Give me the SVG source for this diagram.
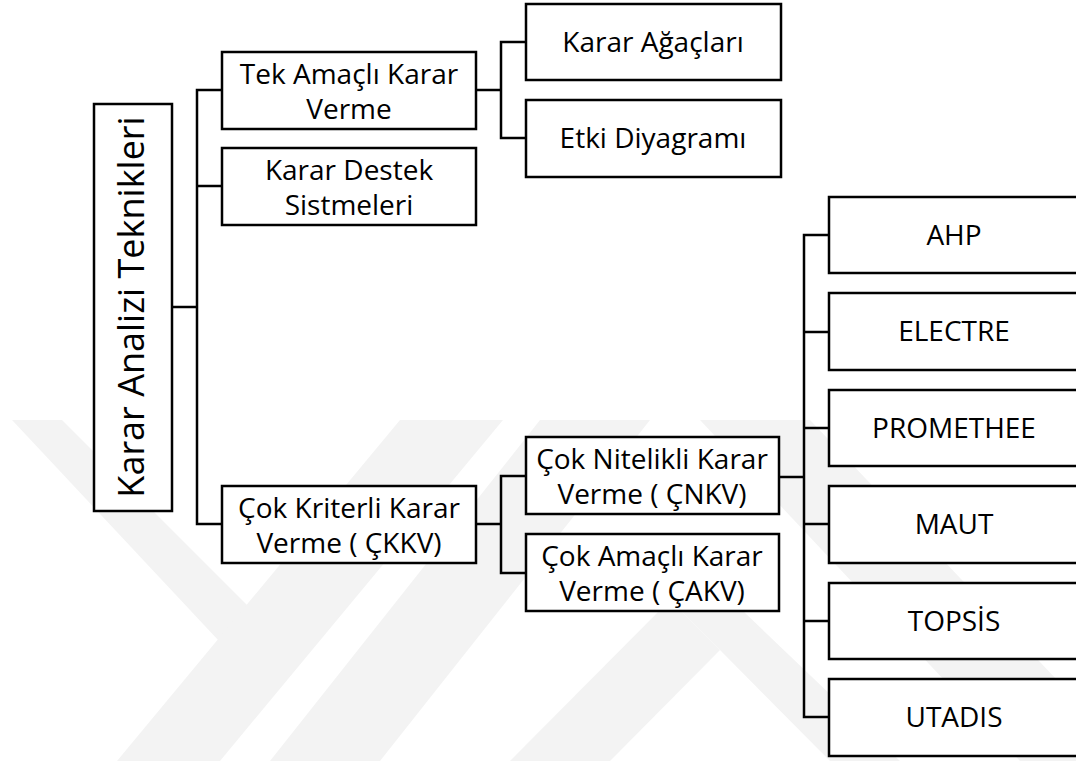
<svg xmlns="http://www.w3.org/2000/svg" width="1076" height="761" viewBox="0 0 1076 761">
<style>
.box{fill:#fff;stroke:#000;stroke-width:2.5}
.t{font-family:"Open Sans","Liberation Sans",sans-serif;font-size:28px;fill:#000;text-anchor:middle}
.c{fill:none;stroke:#000;stroke-width:2.5}
.wm{fill:#f3f3f3}
</style>
<rect width="1076" height="761" fill="#fff"/>
<g id="watermark">
<polygon class="wm" points="12,420 62,420 290,648 265,690"/>
<polygon class="wm" points="400,420 503,420 220,761 117,761"/>
<polygon class="wm" points="540,420 650,420 380,761 270,761"/>
<polygon class="wm" points="700,420 810,420 1076,700 1076,761 1020,761"/>
<polygon class="wm" points="670,600 720,650 610,761 510,761"/>
<polygon class="wm" points="670,600 720,650 830,761 900,761 700,570"/>
</g>
<g id="connectors">
<path class="c" d="M172,307 H197"/>
<path class="c" d="M222,90 H197 V524 H222 M197,186 H222"/>
<path class="c" d="M476,90 H501 M526,42 H501 V138 H526"/>
<path class="c" d="M476,524 H501 M526,476 H501 V573 H526"/>
<path class="c" d="M779,477 H804 M829,235 H804 V717 H829 M804,332 H829 M804,428 H829 M804,524 H829 M804,621 H829"/>
</g>
<g id="root">
<rect class="box" x="94" y="104" width="78" height="407"/>
<text class="t" style="font-size:36px" transform="translate(144,307) rotate(-90)">Karar Analizi Teknikleri</text>
</g>
<g id="tek">
<rect class="box" x="222" y="52" width="254" height="77"/>
<text class="t" x="349" y="84">Tek Amaçlı Karar</text>
<text class="t" x="349" y="119">Verme</text>
</g>
<g id="destek">
<rect class="box" x="222" y="148" width="254" height="77"/>
<text class="t" x="349" y="180">Karar Destek</text>
<text class="t" x="349" y="215">Sistmeleri</text>
</g>
<g id="ckkv">
<rect class="box" x="222" y="486" width="254" height="77"/>
<text class="t" x="349" y="518">Çok Kriterli Karar</text>
<text class="t" x="349" y="553">Verme ( ÇKKV)</text>
</g>
<g id="agac">
<rect class="box" x="526" y="4" width="255" height="76"/>
<text class="t" x="653" y="52">Karar Ağaçları</text>
</g>
<g id="etki">
<rect class="box" x="526" y="100" width="255" height="77"/>
<text class="t" x="653" y="148">Etki Diyagramı</text>
</g>
<g id="cnkv">
<rect class="box" x="526" y="437" width="253" height="77"/>
<text class="t" x="652" y="469">Çok Nitelikli Karar</text>
<text class="t" x="652" y="504">Verme ( ÇNKV)</text>
</g>
<g id="cakv">
<rect class="box" x="526" y="534" width="253" height="77"/>
<text class="t" x="652" y="566">Çok Amaçlı Karar</text>
<text class="t" x="652" y="601">Verme ( ÇAKV)</text>
</g>
<g id="ahp"><rect class="box" x="829" y="197" width="260" height="76"/><text class="t" x="954" y="245">AHP</text></g>
<g id="electre"><rect class="box" x="829" y="293" width="260" height="77"/><text class="t" x="954" y="341">ELECTRE</text></g>
<g id="promethee"><rect class="box" x="829" y="390" width="260" height="76"/><text class="t" x="954" y="438">PROMETHEE</text></g>
<g id="maut"><rect class="box" x="829" y="486" width="260" height="77"/><text class="t" x="954" y="534">MAUT</text></g>
<g id="topsis"><rect class="box" x="829" y="583" width="260" height="76"/><text class="t" x="954" y="631">TOPSİS</text></g>
<g id="utadis"><rect class="box" x="829" y="679" width="260" height="77"/><text class="t" x="954" y="727">UTADIS</text></g>
</svg>
